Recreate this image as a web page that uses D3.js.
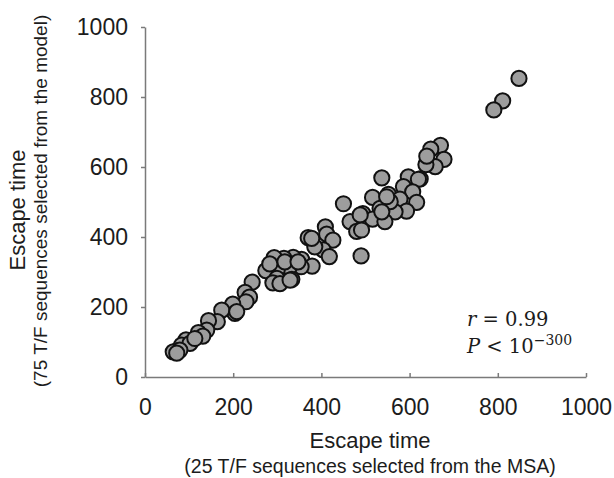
<!DOCTYPE html>
<html>
<head>
<meta charset="utf-8">
<script src="https://cdn.jsdelivr.net/npm/d3@7/dist/d3.min.js"></script>
<style>
  html, body { margin: 0; padding: 0; background: #fff; }
  svg { display: block; }
</style>
</head>
<body>
<svg id="chart" width="614" height="478"></svg>
<script>
// ---- data ----
const xTicks = [0, 200, 400, 600, 800, 1000];
const yTicks = [0, 200, 400, 600, 800, 1000];
const escapeMSA = [
  848, 811, 791, 670, 648, 678, 658, 637, 624, 597, 620, 537, 586, 607, 552, 516,
  450, 616, 578, 533, 593, 567, 556, 494, 465, 516, 544, 480, 488, 409, 412, 426,
  370, 404, 418, 490, 385, 355, 336, 315, 293, 379, 354, 327, 300, 274, 333, 299,
  290, 306, 243, 227, 237, 229, 199, 204, 174, 164, 144, 140, 121, 131, 93, 83,
  72, 64, 102, 113, 79, 72, 208, 329, 548, 537, 491, 639, 317, 347, 283, 378
];
const escapeModel = [
  853, 789, 763, 662, 651, 622, 601, 607, 566, 572, 565, 569, 544, 529, 522, 513,
  495, 499, 508, 482, 474, 472, 501, 467, 444, 451, 444, 416, 463, 429, 408, 391,
  398, 363, 344, 346, 372, 336, 342, 339, 341, 317, 315, 313, 307, 304, 279, 282,
  269, 267, 271, 242, 228, 215, 208, 182, 191, 158, 161, 134, 127, 117, 106, 91,
  75, 72, 96, 110, 77, 68, 187, 277, 515, 472, 420, 631, 329, 329, 323, 396
];
const xLabel = "Escape time";
const xSubLabel = "(25 T/F sequences selected from the MSA)";
const yLabel = "Escape time";
const ySubLabel = "(75 T/F sequences selected from the model)";

// ---- layout ----
const svg = d3.select("#chart");
const mLeft = 145, mRight = 586, mTop = 27, mBottom = 377;

const x = d3.scaleLinear().domain([0, 1000]).range([mLeft, mRight]);
const y = d3.scaleLinear().domain([0, 1000]).range([mBottom, mTop]);

const axisColor = "#7a7a7a";
const textColor = "#1c1c1c";
const font = "'Liberation Sans', Arial, sans-serif";
const fmt = d3.format("d");

// x axis (ticks pointing up, inside)
const gx = svg.append("g")
  .attr("transform", `translate(0,${mBottom})`)
  .call(d3.axisBottom(x).tickValues(xTicks).tickFormat(fmt).tickSize(-4).tickPadding(22).tickSizeOuter(0));
gx.select(".domain").attr("stroke", axisColor).attr("stroke-width", 1.5);
gx.selectAll(".tick line").attr("stroke", axisColor).attr("stroke-width", 1.5);
gx.selectAll(".tick text")
  .attr("fill", textColor).attr("font-family", font).attr("font-size", 23);

// y axis (ticks pointing left, outside)
const gy = svg.append("g")
  .attr("transform", `translate(${mLeft},0)`)
  .call(d3.axisLeft(y).tickValues(yTicks).tickFormat(fmt).tickSize(4).tickPadding(13).tickSizeOuter(0));
gy.select(".domain").attr("stroke", axisColor).attr("stroke-width", 1.5);
gy.selectAll(".tick line").attr("stroke", axisColor).attr("stroke-width", 1.5);
gy.selectAll(".tick text")
  .attr("fill", textColor).attr("font-family", font).attr("font-size", 23);

// points
const pts = escapeMSA.map((v, i) => ({ x: v, y: escapeModel[i] }));
svg.append("g").selectAll("circle")
  .data(pts)
  .join("circle")
  .attr("cx", d => x(d.x))
  .attr("cy", d => y(d.y))
  .attr("r", 7.6)
  .attr("fill", "#9d9d9d")
  .attr("stroke", "#111")
  .attr("stroke-width", 2);

// axis labels
svg.append("text")
  .attr("x", 370).attr("y", 448)
  .attr("text-anchor", "middle")
  .attr("font-family", font).attr("font-size", 22).attr("fill", textColor)
  .text(xLabel);
svg.append("text")
  .attr("x", 370).attr("y", 473)
  .attr("text-anchor", "middle")
  .attr("font-family", font).attr("font-size", 19.5).attr("fill", textColor)
  .text(xSubLabel);

svg.append("text")
  .attr("transform", "translate(25,210) rotate(-90)")
  .attr("text-anchor", "middle")
  .attr("font-family", font).attr("font-size", 22).attr("fill", textColor)
  .text(yLabel);
svg.append("text")
  .attr("transform", "translate(47,201) rotate(-90)")
  .attr("text-anchor", "middle")
  .attr("font-family", font).attr("font-size", 19).attr("fill", textColor)
  .text(ySubLabel);

// annotation
const serif = "'DejaVu Serif', serif";
const t1 = svg.append("text")
  .attr("x", 467).attr("y", 326)
  .attr("font-family", serif).attr("font-size", 19.5).attr("fill", textColor);
t1.append("tspan").attr("font-style", "italic").text("r");
t1.append("tspan").text(" = 0.99");

const t2 = svg.append("text")
  .attr("x", 467).attr("y", 353)
  .attr("font-family", serif).attr("font-size", 19.5).attr("fill", textColor);
t2.append("tspan").attr("font-style", "italic").text("P");
t2.append("tspan").text(" < 10");
t2.append("tspan").attr("font-size", 14).attr("dy", -8).text("\u2212300");
</script>
</body>
</html>
